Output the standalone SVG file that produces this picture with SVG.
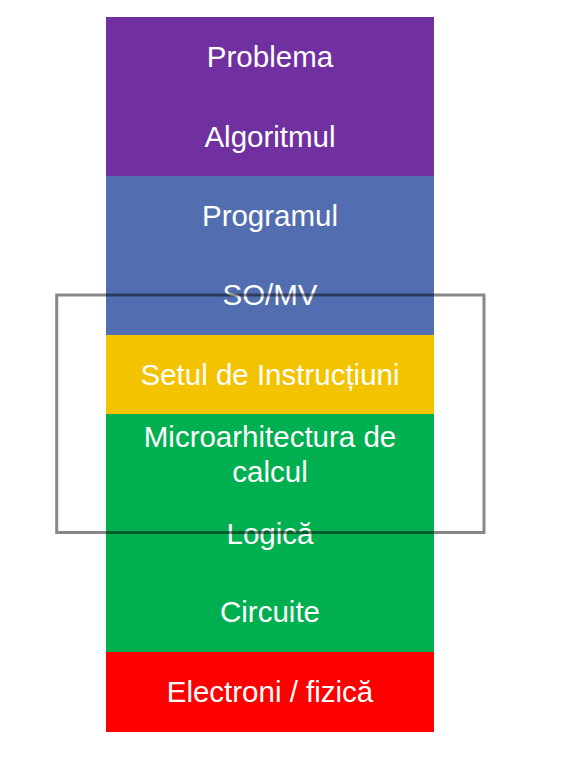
<svg xmlns="http://www.w3.org/2000/svg" width="561" height="762" viewBox="0 0 561 762">
<style>
.lbl{font-family:"Liberation Sans",Arial,sans-serif;font-size:29.5px;fill:#ffffff;text-anchor:middle}
</style>
<rect width="561" height="762" fill="#ffffff"/>
<g id="band-purple"><rect x="106" y="17" width="328" height="159" fill="#7030A0"/></g>
<g id="band-blue"><rect x="106" y="176" width="328" height="159" fill="#526EB0"/></g>
<g id="band-yellow"><rect x="106" y="335" width="328" height="79" fill="#F3C300"/></g>
<g id="band-green"><rect x="106" y="414" width="328" height="238" fill="#00B050"/></g>
<g id="band-red"><rect x="106" y="652" width="328" height="80" fill="#FF0000"/></g>
<g id="node-problema"><text class="lbl" x="270" y="67">Problema</text></g>
<g id="node-algoritmul"><text class="lbl" x="270" y="146.5">Algoritmul</text></g>
<g id="node-programul"><text class="lbl" x="270" y="225.5">Programul</text></g>
<g id="node-somv"><text class="lbl" x="270" y="305">SO/MV</text></g>
<g id="node-setul"><text class="lbl" x="270" y="385">Setul de Instrucțiuni</text></g>
<g id="node-microarhitectura"><text class="lbl" x="270" y="446.5">Microarhitectura de</text><text class="lbl" x="270" y="481.5">calcul</text></g>
<g id="node-logica"><text class="lbl" x="270" y="543.5">Logică</text></g>
<g id="node-circuite"><text class="lbl" x="270" y="622">Circuite</text></g>
<g id="node-electroni"><text class="lbl" x="270" y="702">Electroni / fizică</text></g>
<g id="connectors">
<rect id="highlight" x="56.7" y="295" width="427.3" height="237.5" fill="none" stroke="#000000" stroke-opacity="0.47" stroke-width="3"/>
</g>
</svg>
